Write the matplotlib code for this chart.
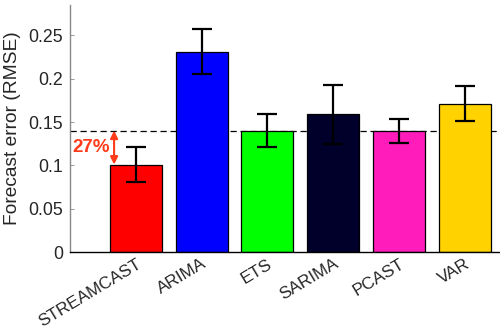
import numpy as np
import matplotlib
matplotlib.use("Agg")
import matplotlib.pyplot as plt

plt.rcParams['font.family'] = ['Liberation Sans', 'DejaVu Sans']

methods = ['STREAMCAST', 'ARIMA', 'ETS', 'SARIMA', 'PCAST', 'VAR']
rmse = [0.101, 0.231, 0.140, 0.159, 0.140, 0.171]
err = [0.020, 0.026, 0.019, 0.034, 0.014, 0.020]
colors = ['#FF0000', '#0000FF', '#00FF00', '#00002A', '#FF1CBA', '#FFD200']
baseline = 0.140
improve_label = '27%'

fig = plt.figure(figsize=(5, 3.33), dpi=100)
ax = fig.add_axes([0.14, 0.243, 0.858, 0.742])

x = np.arange(1, len(methods) + 1)
ax.bar(x, rmse, width=0.79, color=colors, edgecolor='black', linewidth=0.9, zorder=2)
ax.errorbar(x, rmse, yerr=err, fmt='none', ecolor='black', elinewidth=1.6,
            capsize=7.5, capthick=1.6, zorder=3)

# dashed reference line (best baseline)
ax.axhline(baseline, color='black', ls=(0, (5, 3)), lw=0.9, zorder=1)

# improvement arrow
ax.annotate('', xy=(0.67, rmse[0]), xytext=(0.67, baseline),
            arrowprops=dict(arrowstyle='<|-|>', color='#FF3B1A', lw=1.5,
                            mutation_scale=11, shrinkA=0, shrinkB=0))
ax.text(0.32, (baseline + rmse[0]) / 2, improve_label, color='#FF3B1A',
        fontsize=13.5, fontweight='bold', ha='center', va='center')

ax.set_xlim(0, 6.52)
ax.set_ylim(0, 0.285)
ax.set_yticks([0, 0.05, 0.1, 0.15, 0.2, 0.25])
ax.set_yticklabels(['0', '0.05', '0.1', '0.15', '0.2', '0.25'])
ax.set_xticks(x)
ax.set_xticklabels(methods, rotation=31, ha='right', rotation_mode='anchor')

ax.tick_params(axis='y', direction='in', labelsize=12.8, colors='#262626',
               length=3, width=0.6, pad=5)
ax.tick_params(axis='x', direction='in', labelsize=12.3, colors='#262626',
               length=3, width=0.6, pad=3)
ax.tick_params(axis='both', color='#888888')
ax.set_ylabel('Forecast error (RMSE)', fontsize=13.8, color='#262626', labelpad=5)

ax.spines['top'].set_visible(False)
ax.spines['right'].set_visible(False)
ax.spines['left'].set_color('#888888')
ax.spines['bottom'].set_color('black')
ax.spines['left'].set_linewidth(1.0)
ax.spines['bottom'].set_linewidth(1.0)

fig.savefig('out.png', dpi=100)
